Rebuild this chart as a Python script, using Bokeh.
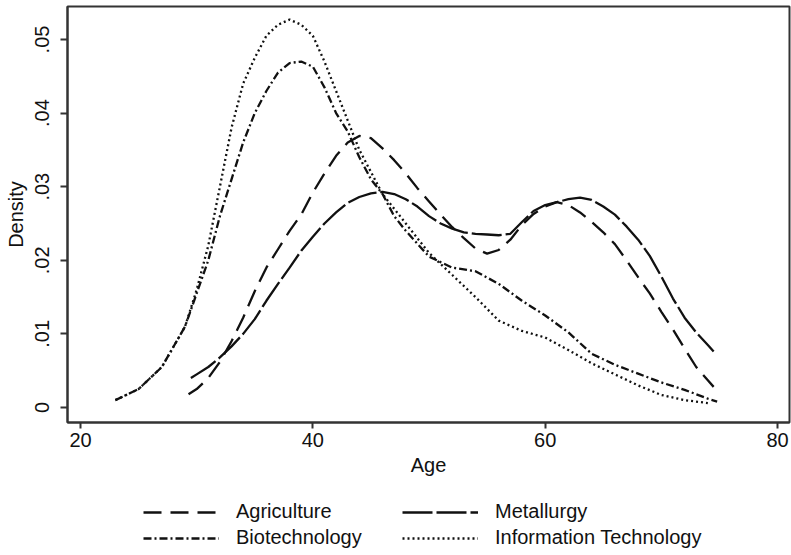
from bokeh.plotting import figure
from bokeh.layouts import column
from bokeh.models import FixedTicker, CustomJSTickFormatter, Legend, LegendItem
from bokeh.embed import file_html
from bokeh.resources import INLINE

# ---- data ----
agri_age = [29.3, 30, 31, 32, 33, 34, 35, 36, 37, 38, 39, 40, 41, 42, 43, 44, 45, 46, 47, 48, 49, 50,
            51, 52, 53, 54, 55, 56, 57, 58, 59, 60, 61, 62, 63, 64, 65, 66, 67, 68, 69, 70, 71, 72,
            73, 74, 74.5]
agri_den = [.0018, .0025, .0040, .0062, .0090, .0122, .0158, .0190, .0215, .0240, .0262, .0292, .0318,
            .0342, .0360, .0369, .0366, .0352, .0336, .0318, .0298, .0280, .0262, .0245, .0230, .0216,
            .0209, .0214, .0228, .0248, .0263, .0273, .0279, .0275, .0265, .0252, .0238, .0222, .0200,
            .0177, .0155, .0130, .0106, .0080, .0055, .0037, .0028]

metal_age = [29.5, 30, 31, 32, 33, 34, 35, 36, 37, 38, 39, 40, 41, 42, 43, 44, 45, 46, 47, 48, 49, 50,
             51, 52, 53, 54, 55, 56, 57, 58, 59, 60, 61, 62, 63, 64, 65, 66, 67, 68, 69, 70, 71, 72,
             73, 74, 74.5]
metal_den = [.0040, .0045, .0055, .0068, .0083, .0100, .0120, .0145, .0168, .0190, .0213, .0232, .0250,
             .0265, .0278, .0286, .0291, .0293, .0290, .0283, .0273, .0260, .0250, .0243, .0238, .0236,
             .0235, .0234, .0236, .0252, .0267, .0275, .0279, .0283, .0285, .0282, .0273, .0262, .0246,
             .0228, .0206, .0178, .0148, .0122, .0102, .0085, .0076]

bio_age = [23, 25, 27, 29, 30, 31, 32, 33, 34, 35, 36, 37, 38, 39, 40, 41, 42, 43, 44, 45, 46, 47, 48,
           50, 52, 54, 56, 58, 60, 62, 64, 66, 68, 70, 72, 74, 74.8]
bio_den = [.0010, .0025, .0055, .0110, .0155, .0200, .0260, .0310, .0360, .0400, .0430, .0455, .0468,
           .0470, .0463, .0435, .0400, .0375, .0340, .0310, .0290, .0260, .0240, .0205, .0190, .0185,
           .0168, .0145, .0125, .0102, .0073, .0058, .0046, .0034, .0024, .0012, .0008]

it_age = [23, 25, 27, 29, 30, 31, 32, 33, 34, 35, 36, 37, 38, 39, 40, 41, 42, 43, 44, 45, 46, 47, 48,
          50, 52, 54, 56, 58, 60, 62, 64, 66, 68, 70, 72, 74]
it_den = [.0010, .0025, .0055, .0110, .0160, .0220, .0300, .0380, .0440, .0475, .0505, .0520, .0527,
          .0520, .0505, .0470, .0430, .0390, .0350, .0320, .0290, .0270, .0250, .0210, .0180, .0150,
          .0118, .0104, .0095, .0078, .0060, .0045, .0030, .0017, .0010, .0006]

series_names = ["Agriculture", "Metallurgy", "Biotechnology", "Information Technology"]
x_ticks = [20, 40, 60, 80]
y_ticks = [0, 0.01, 0.02, 0.03, 0.04, 0.05]

FONT = "Liberation Sans"
INK = "#111111"
DASHES = ["18 9", "30 4", "8 3 2 3", "2 3"]
LW = 2.3
ALL_X = [agri_age, metal_age, bio_age, it_age]
ALL_Y = [agri_den, metal_den, bio_den, it_den]

p = figure(width=791, height=485, output_backend="svg", toolbar_location=None,
           x_range=(18.88, 81.03), y_range=(-0.00204, 0.05448),
           min_border_left=67, min_border_right=2, min_border_top=6, min_border_bottom=63)
p.grid.visible = False
p.background_fill_color = "white"
p.border_fill_color = "white"
p.outline_line_color = "#333333"
p.outline_line_width = 2

for xs, ys, dash in zip(ALL_X, ALL_Y, DASHES):
    p.line(xs, ys, line_color=INK, line_width=LW, line_dash=dash)

# axes
p.xaxis.ticker = FixedTicker(ticks=x_ticks)
p.yaxis.ticker = FixedTicker(ticks=y_ticks)
p.yaxis.formatter = CustomJSTickFormatter(code="""
    if (Math.abs(tick) < 1e-9) return "0";
    return tick.toFixed(2).replace(/^0/, "");
""")
for ax in (p.xaxis, p.yaxis):
    ax.axis_line_color = "#333333"
    ax.axis_line_width = 2
    ax.major_tick_line_color = "#333333"
    ax.major_tick_line_width = 2
    ax.major_tick_in = 0
    ax.minor_tick_line_color = None
    ax.major_label_text_font = FONT
    ax.major_label_text_font_size = "20px"
    ax.major_label_text_color = INK
    ax.axis_label_text_font = FONT
    ax.axis_label_text_font_size = "20px"
    ax.axis_label_text_font_style = "normal"
    ax.axis_label_text_color = INK
p.xaxis.major_tick_out = 6
p.yaxis.major_tick_out = 7
p.xaxis.major_label_standoff = 4
p.yaxis.major_label_standoff = 11
p.yaxis.major_label_orientation = "vertical"
p.xaxis.axis_label = "Age"
p.yaxis.axis_label = "Density"
p.xaxis.axis_label_standoff = 4
p.yaxis.axis_label_standoff = 6

# legend strip below the plot (series drawn off-range so only the legend shows)
lg = figure(width=791, height=70, output_backend="svg", toolbar_location=None,
            x_range=(0, 1), y_range=(0, 1), x_axis_location=None, y_axis_location=None,
            min_border_left=0, min_border_right=0, min_border_top=0, min_border_bottom=0)
lg.grid.visible = False
lg.outline_line_color = None
lg.background_fill_color = "white"
lg.border_fill_color = "white"
items = []
for name, xs, ys, dash in zip(series_names, ALL_X, ALL_Y, DASHES):
    r = lg.line(xs, ys, line_color=INK, line_width=LW, line_dash=dash)
    items.append(LegendItem(label=name, renderers=[r]))
legend = Legend(items=items, ncols=2, location=(76, 6), orientation="horizontal",
                glyph_width=76, glyph_height=20, label_standoff=17, spacing=3,
                label_width=163, label_height=20,
                label_text_font=FONT, label_text_font_size="20px", label_text_color=INK,
                border_line_color=None, background_fill_alpha=0, padding=4, margin=0)
lg.add_layout(legend, "center")

layout = column(p, lg, spacing=0)
open("out.html", "w").write(file_html(layout, INLINE))
